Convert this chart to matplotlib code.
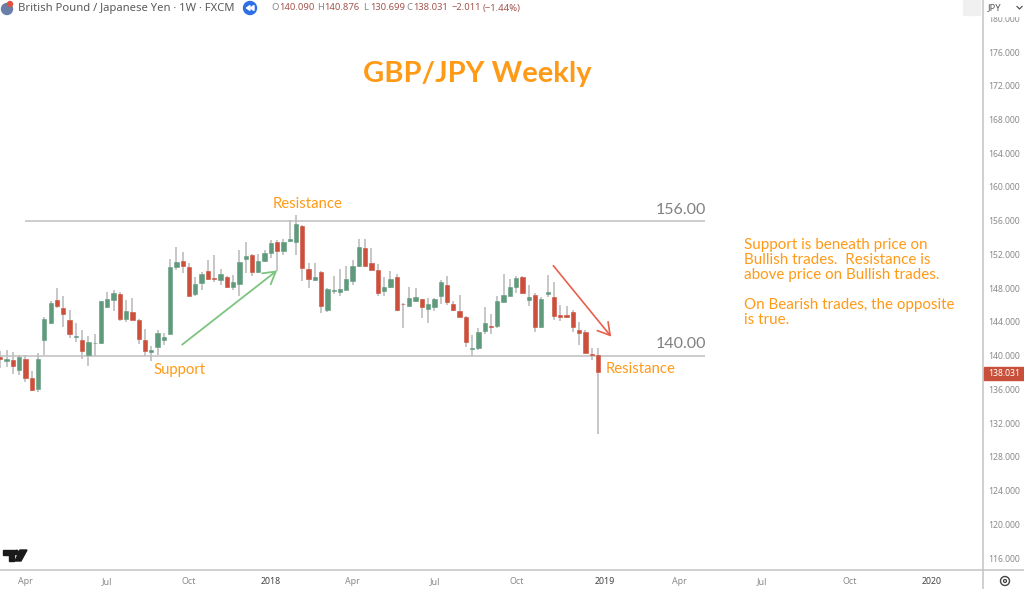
import matplotlib
matplotlib.use("Agg")
import matplotlib.pyplot as plt
from matplotlib.patches import Circle, Polygon, Rectangle
import numpy as np

# weekly candles
opens = [139.88, 139.41, 139.45, 138.34, 139.64, 137.35, 136.09, 141.86, 143.83, 146.64, 145.69, 144.23,
         142.25, 141.90, 140.12, 141.46, 141.50, 145.73, 146.56, 147.35, 144.31, 145.22, 144.27, 141.86,
         140.47, 141.03, 141.86, 142.57, 150.51, 151.27, 150.55, 147.35, 148.62, 150.08, 149.25, 148.93,
         149.29, 148.10, 148.46, 151.50, 151.90, 149.96, 151.19, 152.14, 153.44, 152.41, 153.56, 153.52,
         155.34, 150.32, 148.93, 149.92, 145.46, 147.63, 147.55, 147.83, 148.89, 150.67, 152.81, 150.95,
         150.20, 147.63, 148.10, 149.29, 146.17, 145.93, 146.48, 146.72, 145.49, 145.73, 147.04, 148.42,
         146.17, 145.30, 144.63, 140.79, 140.87, 142.89, 143.48, 143.48, 146.36, 147.04, 148.18, 149.33,
         146.64, 147.19, 143.40, 147.35, 147.00, 144.86, 144.78, 145.18, 143.04, 142.85, 140.20, 140.09]
highs = [140.51, 140.71, 140.43, 140.12, 140.04, 138.22, 140.32, 144.55, 146.52, 148.06, 147.12, 145.42,
         143.91, 143.08, 142.37, 142.57, 146.52, 147.55, 147.83, 147.55, 146.56, 146.84, 144.30, 143.16,
         141.11, 143.00, 142.69, 151.50, 152.89, 152.33, 150.99, 149.29, 149.88, 151.38, 151.98, 150.32,
         149.41, 149.61, 152.57, 153.48, 152.06, 152.06, 152.49, 153.68, 153.68, 153.84, 156.13, 156.64,
         155.54, 150.99, 150.99, 150.08, 147.97, 149.49, 150.32, 150.67, 151.31, 153.84, 153.84, 152.77,
         150.87, 149.33, 150.00, 149.72, 146.20, 148.10, 148.02, 146.74, 146.84, 146.84, 148.93, 149.41,
         146.52, 147.19, 144.67, 142.45, 143.28, 145.73, 144.98, 147.12, 149.72, 149.09, 149.41, 149.41,
         148.42, 147.43, 146.96, 149.53, 148.74, 146.05, 145.93, 145.46, 143.95, 143.00, 140.87, 140.876]
lows = [138.54, 138.66, 137.83, 137.67, 136.88, 135.85, 135.65, 140.04, 143.80, 145.65, 143.36, 142.13,
        141.58, 139.57, 138.74, 139.92, 141.42, 145.70, 145.26, 144.15, 144.03, 144.19, 141.34, 139.92,
        139.33, 140.04, 141.26, 142.55, 150.20, 149.80, 147.04, 147.04, 147.83, 148.93, 148.70, 148.42,
        147.99, 147.83, 147.04, 149.80, 149.49, 149.80, 151.07, 151.58, 150.00, 151.98, 153.48, 151.98,
        148.89, 148.02, 148.80, 145.06, 145.14, 147.31, 147.04, 147.80, 148.42, 150.51, 150.59, 150.14,
        147.04, 147.04, 148.02, 145.34, 143.24, 145.85, 146.40, 144.43, 143.87, 145.26, 146.17, 146.01,
        145.34, 144.55, 140.99, 140.00, 140.71, 142.57, 142.61, 143.28, 146.34, 147.02, 147.43, 147.31,
        145.85, 142.81, 143.28, 146.96, 144.27, 144.07, 144.47, 142.85, 141.26, 140.28, 139.53, 130.699]
closes = [139.57, 139.64, 138.74, 139.80, 137.35, 135.89, 139.64, 144.39, 146.21, 145.93, 144.98, 142.53,
          142.33, 140.51, 141.62, 141.54, 146.44, 146.76, 147.47, 144.39, 145.34, 144.27, 142.02, 140.51,
          140.71, 142.73, 142.21, 150.55, 151.15, 150.59, 147.08, 148.54, 149.72, 149.09, 149.09, 149.65,
          148.10, 148.78, 151.15, 151.86, 149.88, 151.27, 152.21, 153.32, 152.37, 153.52, 153.87, 155.57,
          150.36, 149.13, 149.29, 145.85, 147.95, 147.75, 147.95, 149.09, 150.67, 152.85, 150.67, 150.16,
          147.43, 148.10, 149.13, 145.38, 146.09, 146.84, 146.92, 145.81, 146.13, 146.76, 148.70, 146.32,
          145.38, 144.63, 141.58, 140.87, 142.85, 143.87, 143.36, 146.44, 147.23, 148.10, 149.17, 147.43,
          147.00, 143.40, 146.76, 147.59, 144.66, 144.59, 144.59, 143.40, 142.65, 140.36, 140.08, 138.031]

price_ticks = [116, 120, 124, 128, 132, 136, 140, 144, 148, 152, 156, 160, 164, 168, 172, 176, 180]
time_ticks = [4, 17, 30, 43, 56, 69, 82, 96, 108, 121, 135, 148]
time_labels = ["Apr", "Jul", "Oct", "2018", "Apr", "Jul", "Oct", "2019", "Apr", "Jul", "Oct", "2020"]
levels = [156, 140]
last_price = 138.031

W, H = 1024, 589
ORANGE = "#ff9a17"
GREEN = "#5f9a7c"
RED = "#cb4f3a"
WICK = "#bdbdbd"
GRID = "#c4c4c4"
AXIS_TXT = "#8a8a8a"
FONT = "Lato"
UI_FONT = "Noto Sans"


def fx(x):
    return x / W


def fy(y):
    return 1 - y / H


def label(x, y, s, **kw):
    kw.setdefault("family", FONT)
    kw.setdefault("va", "center")
    return fig.text(fx(x), fy(y), s, zorder=12, **kw)


fig = plt.figure(figsize=(W / 100, H / 100), dpi=100)
ax = fig.add_axes([0, 19 / H, 983 / W, 570 / H])
ax.set_xlim(-0.05, 156.2)
ax.set_ylim(114.58, 182.17)

# candles
weeks = np.arange(len(opens))
o = np.array(opens)
c = np.array(closes)
colors = [GREEN if b >= a else RED for a, b in zip(opens, closes)]
ax.vlines(weeks, lows, highs, color=WICK, lw=1.2, zorder=2)
ax.bar(weeks, np.abs(c - o), bottom=np.minimum(o, c), width=0.68, color=colors,
       edgecolor=colors, lw=0.4, zorder=3)

# support / resistance levels
ax.hlines(levels[0], 3.95, 112, color=GRID, lw=1.2, zorder=1)
ax.hlines(levels[1], -0.05, 112, color=GRID, lw=1.2, zorder=1)
ax.text(104.2, 157.3, "156.00", family=FONT, fontsize=11.5, color="#808080", va="center")
ax.text(104.2, 141.35, "140.00", family=FONT, fontsize=11.5, color="#808080", va="center")

# trend arrows
ax.annotate("", xy=(44.0, 150.1), xytext=(28.9, 141.3),
            arrowprops=dict(arrowstyle="->,head_length=0.85,head_width=0.5", color="#7cc47f", lw=1.3,
                            shrinkA=0, shrinkB=0))
ax.annotate("", xy=(97.1, 142.25), xytext=(87.9, 150.67),
            arrowprops=dict(arrowstyle="->,head_length=0.85,head_width=0.5", color="#e8604c", lw=1.2,
                            shrinkA=0, shrinkB=0))

ax.yaxis.tick_right()
ax.set_yticks(price_ticks, [f"{p:.3f}" for p in price_ticks], family=UI_FONT, fontsize=6.2, color=AXIS_TXT)
ax.set_xticks(time_ticks, time_labels, family=UI_FONT, fontsize=6.4, color=AXIS_TXT)
for t in ax.get_xticklabels():
    if t.get_text() in ("2018", "2019", "2020"):
        t.set_color("#444444")
ax.tick_params(axis="both", length=0)
ax.tick_params(axis="x", pad=5)
ax.tick_params(axis="y", pad=3.5)
for side in ("top", "left"):
    ax.spines[side].set_visible(False)
ax.spines["right"].set_color(GRID)
ax.spines["bottom"].set_color(GRID)
ax.spines["right"].set_linewidth(1.1)
ax.spines["bottom"].set_linewidth(1.1)
fig.add_artist(plt.Line2D([fx(983), fx(1024)], [fy(570), fy(570)], color=GRID, lw=1.1))
fig.add_artist(plt.Line2D([fx(983), fx(983)], [fy(570), fy(589)], color=GRID, lw=1.1))

# annotation text
label(477, 74, "GBP/JPY Weekly", color=ORANGE, fontsize=21, fontweight="bold", ha="center")
label(273, 204, "Resistance", color=ORANGE, fontsize=10.7)
label(153, 370, "Support", color=ORANGE, fontsize=10.7)
label(606, 369, "Resistance", color=ORANGE, fontsize=10.7)
note_lines = ["Support is beneath price on", "Bullish trades.  Resistance is", "above price on Bullish trades.",
              "", "On Bearish trades, the opposite", "is true."]
for n, line in enumerate(note_lines):
    label(744, 245 + n * 15.1, line, color=ORANGE, fontsize=10.9)

# header
label(18, 8, "British Pound / Japanese Yen · 1W · FXCM", family=UI_FONT, fontsize=8.1, color="#5a5a5a")
for x, s in [(271.5, "O"), (317, "H"), (363, "L"), (406, "C")]:
    label(x, 8, s, family=UI_FONT, fontsize=6.8, color="#8a8a8a")
ohlc_red = "#a5554f"
for x, s in [(279, "140.090"), (324, "140.876"), (370, "130.699"), (413, "138.031"),
             (452, "−2.011"), (483, "(−1.44%)")]:
    label(x, 8, s, family=UI_FONT, fontsize=6.8, color=ohlc_red)

# little icons, drawn in pixel space
px = fig.add_axes([0, 0, 1, 1], zorder=10)
px.set_xlim(0, W)
px.set_ylim(H, 0)
px.axis("off")
px.set_aspect("auto")
px.add_patch(Circle((7, 9), 5.5, color="#6a7fa8"))
px.add_patch(Circle((10, 4), 2.5, color="#e0523f"))
px.add_patch(Circle((250, 8), 6.5, color="#2f6fe4"))
px.add_patch(Polygon([[250, 5.5], [250, 10.5], [246.5, 8]], color="white"))
px.add_patch(Polygon([[254, 5.5], [254, 10.5], [250.5, 8]], color="white"))
# currency box
px.add_patch(Rectangle((963, 0), 17, 15, color="#f0f0f0"))
px.add_patch(Rectangle((985, 0), 39, 16, color="white"))
px.plot([1017, 1019.5, 1022], [6.5, 9, 6.5], color="#555555", lw=0.9)
label(988, 8, "JPY", family=UI_FONT, fontsize=6.8, color="#555555")
# last price tag
px.add_patch(Rectangle((984, 367), 40, 13, color="#c8503a"))
label(1004, 373.5, f"{last_price:.3f}", family=UI_FONT, fontsize=6.2, color="white", ha="center")
# logo
px.add_patch(Polygon([[3, 550], [14, 550], [14, 561], [9, 561], [9, 555], [3, 555]], color="#1a1a1a"))
px.add_patch(Circle((16.5, 552.5), 2.2, color="#1a1a1a"))
px.add_patch(Polygon([[20, 550], [27, 550], [21, 561], [15, 561]], color="#1a1a1a"))
# gear
px.add_patch(Circle((1005, 581), 4.5, fill=False, ec="#444444", lw=1))
px.add_patch(Circle((1005, 581), 1.5, fill=False, ec="#444444", lw=0.9))

fig.savefig("out.png", dpi=100)
